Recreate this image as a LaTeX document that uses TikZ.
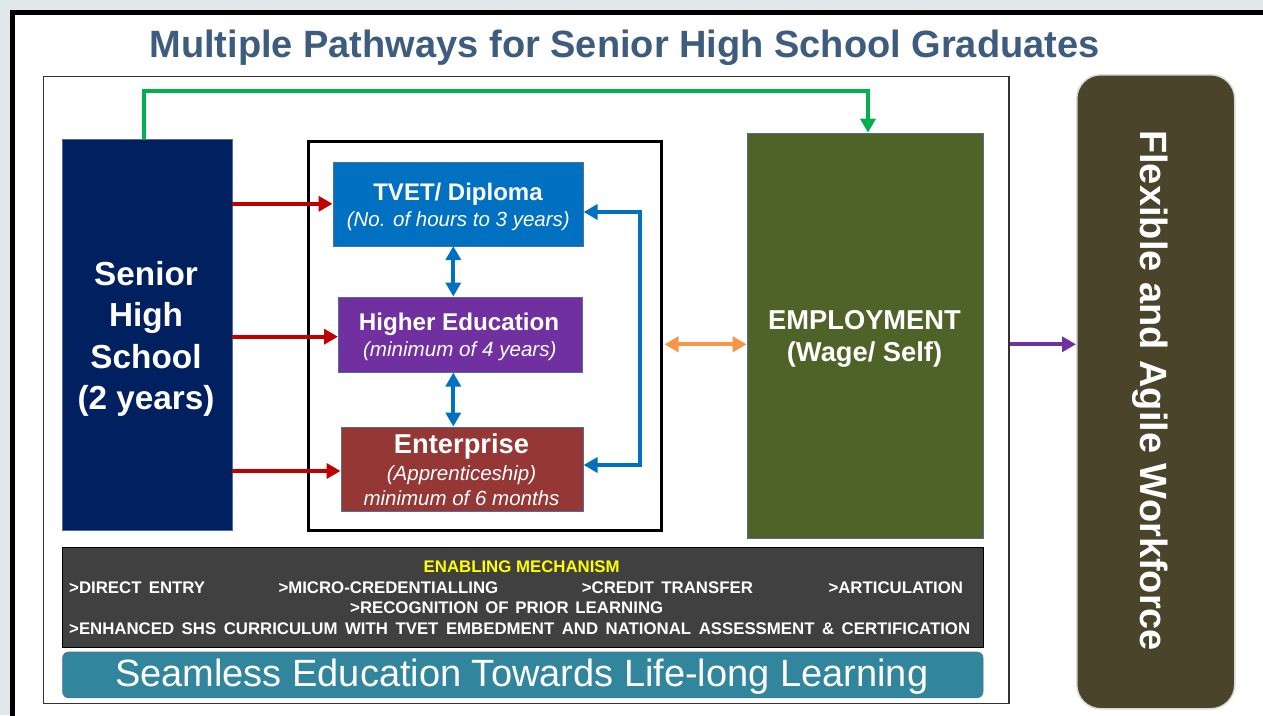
\documentclass[tikz,border=0pt]{standalone}
\usepackage{fontspec}
\setmainfont{Liberation Sans}
\usetikzlibrary{arrows.meta}

\definecolor{pagebg}{RGB}{225,232,234}
\definecolor{titleblue}{RGB}{62,92,125}
\definecolor{shsnavy}{RGB}{0,32,96}
\definecolor{tvetblue}{RGB}{0,112,192}
\definecolor{hepurple}{RGB}{112,48,160}
\definecolor{entred}{RGB}{149,55,53}
\definecolor{empgreen}{RGB}{79,98,40}
\definecolor{flexbrown}{RGB}{74,68,42}
\definecolor{enabgray}{RGB}{64,64,64}
\definecolor{seamteal}{RGB}{49,133,156}
\definecolor{arrred}{RGB}{192,0,0}
\definecolor{arrgreen}{RGB}{0,176,80}
\definecolor{arrorange}{RGB}{247,150,70}
\definecolor{boxedge}{RGB}{80,110,150}
\definecolor{enabyellow}{RGB}{255,255,0}

\tikzset{
  panel/.style={rectangle, inner sep=0pt, anchor=north west, draw=boxedge, line width=0.6pt},
  label/.style={inner sep=0pt, text=white},
  tip/.style={-{Triangle[length=14pt,width=15pt]}},
  dtip/.style={{Triangle[length=14pt,width=15pt]}-{Triangle[length=14pt,width=15pt]}},
  redarrow/.style={tip, draw=arrred, line width=4pt},
  bluearrow/.style={dtip, draw=tvetblue, line width=4pt},
  mechtext/.style={inner sep=0pt, anchor=base west, text=white, font=\fontsize{16.8}{20}\selectfont\bfseries},
}

\begin{document}
\begin{tikzpicture}[x=1pt,y=-1pt]
\useasboundingbox (0,0) rectangle (1263,715);
\clip (0,0) rectangle (1263,715);
\fill[pagebg] (0,0) rectangle (1263,715);
% slide frame, running off the right and bottom edges
\draw[line width=5pt, fill=white] (12.5,12.5) rectangle (1300,760);

% title
\node[inner sep=0pt, anchor=base, text=titleblue, font=\fontsize{38}{44}\selectfont\bfseries] (title) at (624.5,57) {Multiple Pathways for Senior High School Graduates};

% frame around the pathways
\node[rectangle, inner sep=0pt, anchor=north west, draw=black!80, line width=1.3pt, minimum width=965.6, minimum height=627] (inner) at (42.7,76) {};

% senior high school
\node[panel, fill=shsnavy, minimum width=169.5, minimum height=391.5] (shs) at (62,138.5) {};
\begin{scope}[every node/.style={label, anchor=base, font=\fontsize{33.3}{40}\selectfont\bfseries}]
\node (shs1) at (146,285) {Senior};
\node (shs2) at (146,326.5) {High};
\node (shs3) at (146,368) {School};
\node (shs4) at (146,409.5) {(2 years)};
\end{scope}

% post-secondary options
\node[rectangle, inner sep=0pt, anchor=north west, draw=black, line width=3pt, minimum width=353.5, minimum height=389.5] (mid) at (306.5,139.5) {};

\node[panel, fill=tvetblue, minimum width=250.5, minimum height=84] (tvet) at (332.5,161.5) {};
\node[label, anchor=base, font=\fontsize{24}{28}\selectfont\bfseries] (tvet1) at (458,200) {TVET/ Diploma};
\node[label, anchor=base, font=\fontsize{20.5}{24}\selectfont\itshape] (tvet2) at (458.3,226.7) {(No. of hours to 3 years)};

\node[panel, fill=hepurple, minimum width=244, minimum height=75.5] (he) at (338,296.5) {};
\node[label, anchor=base, font=\fontsize{24.2}{28}\selectfont\bfseries] (he1) at (459,330) {Higher Education};
\node[label, anchor=base, font=\fontsize{20.6}{24}\selectfont\itshape] (he2) at (459.8,356.7) {(minimum of 4 years)};

\node[panel, fill=entred, minimum width=242.5, minimum height=84.5] (ent) at (340.5,426.5) {};
\node[label, anchor=base, font=\fontsize{27.3}{32}\selectfont\bfseries] (ent1) at (461.5,453.3) {Enterprise};
\node[label, anchor=base, font=\fontsize{20.5}{24}\selectfont\itshape] (ent2) at (461.5,480) {(Apprenticeship)};
\node[label, anchor=base, font=\fontsize{20.5}{24}\selectfont\itshape] (ent3) at (461.5,505) {minimum of 6 months};

% employment
\node[panel, fill=empgreen, minimum width=236, minimum height=405] (emp) at (746.7,132.7) {};
\node[label, anchor=base, font=\fontsize{27.3}{32}\selectfont\bfseries] (emp1) at (864.5,329.3) {EMPLOYMENT};
\node[label, anchor=base, font=\fontsize{27.3}{32}\selectfont\bfseries] (emp2) at (864.5,361) {(Wage/ Self)};

% workforce
\node[rectangle, inner sep=0pt, anchor=north west, rounded corners=24pt, fill=flexbrown, draw=black!15, line width=1.5pt, minimum width=158, minimum height=634] (flex) at (1076,74) {};
\node[label, anchor=base west, rotate=-90, font=\fontsize{38}{44}\selectfont\bfseries] (flextext) at (1140,130) {Flexible and Agile Workforce};

% enabling mechanism
\node[rectangle, inner sep=0pt, anchor=north west, fill=enabgray, draw=black, line width=1pt, minimum width=920.4, minimum height=99.7] (enab) at (62.3,547) {};
\node[inner sep=0pt, anchor=base, text=enabyellow, font=\fontsize{16.8}{20}\selectfont\bfseries] (enabhead) at (521.7,572.3) {ENABLING MECHANISM};
\node[mechtext] (m1) at (69,593.3) {\makebox[136pt][s]{>DIRECT ENTRY}};
\node[mechtext] (m2) at (278.3,593.3) {>MICRO-CREDENTIALLING};
\node[mechtext] (m3) at (581.7,593.3) {\makebox[171pt][s]{>CREDIT TRANSFER}};
\node[mechtext] (m4) at (828.3,593.3) {>ARTICULATION};
\node[mechtext] (m5) at (350,613.3) {\makebox[313pt][s]{>RECOGNITION OF PRIOR LEARNING}};
\node[mechtext] (m6) at (69,634.3) {\makebox[901pt][s]{>ENHANCED SHS CURRICULUM WITH TVET EMBEDMENT AND NATIONAL ASSESSMENT \& CERTIFICATION}};

% lifelong learning banner
\node[rectangle, inner sep=0pt, anchor=north west, rounded corners=6pt, fill=seamteal, draw=boxedge, line width=0.6pt, minimum width=920.4, minimum height=45.8] (seam) at (62.3,651.7) {};
\node[label, anchor=base, font=\fontsize{38}{44}\selectfont] (seamtext) at (521.7,686.7) {Seamless Education Towards Life-long Learning};

% connectors
\coordinate (g1) at (144,91);
\coordinate (g2) at (868,91);
\draw[tip, draw=arrgreen, line width=4pt] (g1 |- shs.north) -- (g1) -- (g2) -- (g2 |- emp.north);

\draw[redarrow] (tvet.west -| shs.east) -- (tvet.west);
\coordinate (r2) at (0,336.7);
\draw[redarrow] (r2 -| shs.east) -- (r2 -| he.west);
\coordinate (r3) at (0,471);
\draw[redarrow] (r3 -| shs.east) -- (r3 -| ent.west);

\coordinate (vx) at (453.3,0);
\draw[bluearrow] (tvet.south -| vx) -- (he.north -| vx);
\draw[bluearrow] (he.south -| vx) -- (ent.north -| vx);

\coordinate (b1) at (640,212);
\coordinate (b2) at (640,465);
\draw[bluearrow] (tvet.east |- b1) -- (b1) -- (b2) -- (ent.east |- b2);

\coordinate (oy) at (0,344.3);
\draw[dtip, draw=arrorange, line width=4pt] (oy -| mid.east) ++(1.5,0) -- (oy -| emp.west);
\draw[tip, draw=hepurple, line width=4pt] (oy -| inner.east) -- (oy -| flex.west);
\end{tikzpicture}
\end{document}
